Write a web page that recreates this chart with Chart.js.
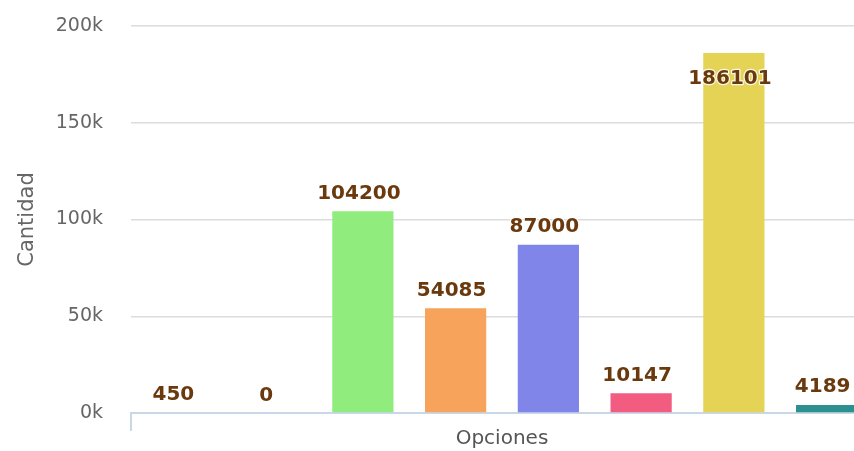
<!DOCTYPE html>
<html>
<head>
<meta charset="utf-8">
<script src="https://cdn.jsdelivr.net/npm/chart.js@4"></script>
<style>
  html, body { margin: 0; padding: 0; background: #fff; overflow: hidden; }
  #wrap { width: 880px; height: 451px; position: relative; }
</style>
</head>
<body>
<div id="wrap"><canvas id="c"></canvas></div>
<script>
const categories = ['Opciones'];
const seriesNames = ['Opción 1', 'Opción 2', 'Opción 3', 'Opción 4', 'Opción 5', 'Opción 6', 'Opción 7', 'Opción 8'];
const seriesValues = [450, 0, 104200, 54085, 87000, 10147, 186101, 4189];
const seriesColors = ['#7cb5ec', '#434348', '#90ed7d', '#f7a35c', '#8085e9', '#f15c80', '#e4d354', '#2b908f'];
const yTicks = [0, 50000, 100000, 150000, 200000];

const datasets = seriesNames.map((name, i) => ({
  label: name,
  data: [seriesValues[i]],
  backgroundColor: seriesColors[i],
  borderWidth: 0,
  categoryPercentage: 1.0,
  barPercentage: 0.66
}));

const labelPlugin = {
  id: 'valueLabels',
  afterDatasetsDraw(chart) {
    const ctx = chart.ctx;
    const top = chart.chartArea.top;
    ctx.save();
    ctx.font = 'bold 20px "DejaVu Sans"';
    ctx.textAlign = 'center';
    ctx.textBaseline = 'alphabetic';
    ctx.lineJoin = 'round';
    chart.data.datasets.forEach((ds, di) => {
      const meta = chart.getDatasetMeta(di);
      meta.data.forEach((bar, j) => {
        const v = ds.data[j];
        const txt = String(v);
        let y = bar.y - 12.5;
        if (y - 16 < top) y = bar.y + 31;
        const x = bar.x - 4;
        ctx.strokeStyle = 'rgba(255,255,255,0.85)';
        ctx.lineWidth = 2.5;
        ctx.strokeText(txt, x, y);
        ctx.fillStyle = '#6a3a0e';
        ctx.fillText(txt, x, y);
      });
    });
    ctx.restore();
  }
};

new Chart(document.getElementById('c'), {
  type: 'bar',
  data: { labels: categories, datasets },
  plugins: [labelPlugin],
  options: {
    responsive: true,
    maintainAspectRatio: false,
    animation: false,
    layout: { padding: { top: 26, right: 7, bottom: 0, left: 0 } },
    plugins: { legend: { display: false }, tooltip: { enabled: false } },
    scales: {
      x: {
        offset: true,
        grid: { display: true, drawOnChartArea: false, drawTicks: true, tickLength: 18, color: '#C8D8E8', lineWidth: 2, offset: true },
        border: { display: true, color: '#C8D8E8', width: 2 },
        ticks: { display: false },
        title: { display: true, text: 'Opciones', color: '#555', font: { family: 'DejaVu Sans', size: 20 }, padding: { top: 0, bottom: 0 } },
        afterFit(scale) { scale.height = 38; }
      },
      y: {
        min: 0,
        max: 200000,
        afterBuildTicks(scale) { scale.ticks = yTicks.map(v => ({ value: v })); },
        grid: { color: '#dcdcdc', drawTicks: false, lineWidth: 1.5 },
        border: { display: false },
        ticks: {
          padding: 28,
          color: '#666',
          font: { family: 'DejaVu Sans', size: 19 },
          callback: (v) => (v / 1000) + 'k'
        },
        title: { display: true, text: 'Cantidad', color: '#666', font: { family: 'DejaVu Sans', size: 21 }, padding: { top: 15, bottom: 0 } },
        afterFit(scale) { scale.width = 131; scale.paddingTop = 0; scale.paddingBottom = 0; }
      }
    }
  }
});
</script>
</body>
</html>
